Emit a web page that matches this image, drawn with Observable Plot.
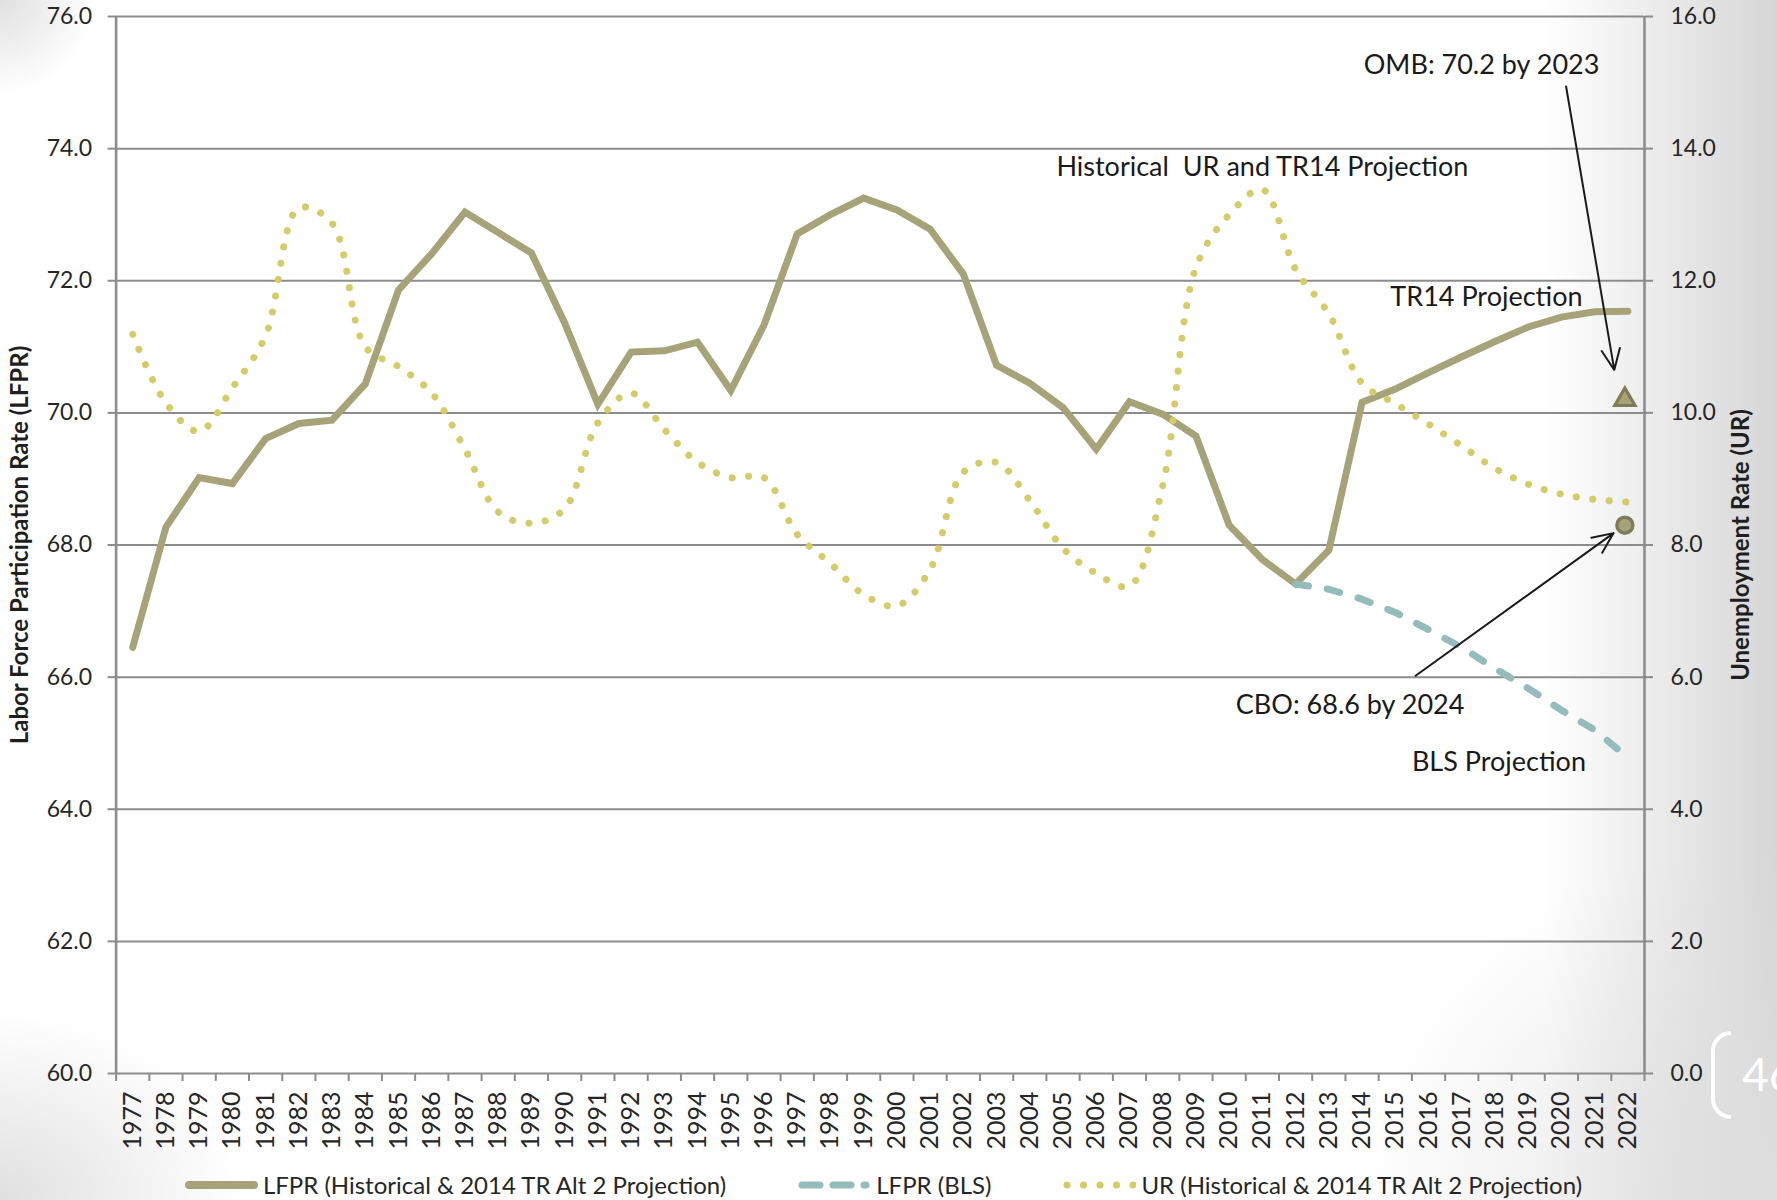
<!DOCTYPE html>
<html>
<head>
<meta charset="utf-8">
<script src="https://cdn.jsdelivr.net/npm/d3@7"></script>
<script src="https://cdn.jsdelivr.net/npm/@observablehq/plot@0.6"></script>
<style>
  html, body { margin: 0; padding: 0; }
  #page {
    position: relative; width: 1777px; height: 1200px; overflow: hidden;
    font-family: Lato, "Open Sans", sans-serif;
    background:
      radial-gradient(ellipse 95px 95px at 0 0, #e0e0e0 0%, rgba(224,224,224,0) 100%),
      radial-gradient(ellipse 240px 190px at 0 1200px, #e0e0e0 0%, rgba(224,224,224,0) 100%),
      radial-gradient(ellipse 420px 360px at 1777px 1200px, rgba(222,222,222,0.9) 0%, rgba(222,222,222,0) 100%),
      linear-gradient(to right, #ffffff 0px, #ffffff 1545px, #d6d6d6 1777px);
  }
  #chart { position: absolute; left: 0; top: 0; }
  #legend {
    position: absolute; left: 0; top: 1168px; width: 1767px;
    display: flex; justify-content: center; align-items: center; gap: 72px;
    font-size: 24px; color: #262626; line-height: 34px;
  }
  #legend .item { display: flex; align-items: center; gap: 5px; white-space: nowrap; }
  #legend svg { display: block; }
  .bracket {
    position: absolute; left: 1711px; top: 1031px; width: 16px; height: 80px;
    border: 4px solid #ffffff; border-right: none; border-radius: 24px 0 0 24px;
  }
  .pagenum {
    position: absolute; left: 1742px; top: 1046px; font-size: 46px; color: #ffffff;
    line-height: 56px;
  }
</style>
</head>
<body>
<div id="page">
  <div id="chart"></div>
  <div id="legend"></div>
  <div class="bracket"></div>
  <div class="pagenum">46</div>
</div>
<script>
// Labor force participation rate and unemployment rate, 1977–2022
const years = d3.range(1977, 2023);

// LFPR (historical & 2014 Trustees Report intermediate projection), percent
const lfpr = [
  66.45, 68.27, 69.02, 68.93, 69.61, 69.84, 69.89, 70.44, 71.86, 72.41,
  73.04, 72.73, 72.42, 71.36, 70.13, 70.92, 70.94, 71.07, 70.34, 71.33,
  72.71, 73.00, 73.25, 73.07, 72.78, 72.10, 70.72, 70.45, 70.08, 69.45,
  70.17, 69.98, 69.65, 68.30, 67.78, 67.41, 67.92, 70.16, 70.36, 70.61,
  70.85, 71.08, 71.30, 71.45, 71.53, 71.54
];

// BLS projection of LFPR, 2012–2022
const blsYears = d3.range(2012, 2023);
const blsLfpr = [67.41, 67.33, 67.18, 66.98, 66.72, 66.45, 66.13, 65.83, 65.50, 65.20, 64.78];

// Unemployment rate (historical & 2014 TR Alt 2 projection), percent, right axis
const ur = [
  11.19, 10.15, 9.72, 10.38, 11.17, 13.10, 12.87, 11.00, 10.70, 10.30,
  9.45, 8.50, 8.33, 8.55, 9.85, 10.30, 9.75, 9.25, 9.02, 9.02,
  8.16, 7.72, 7.25, 7.08, 7.63, 9.10, 9.25, 8.67, 7.95, 7.57,
  7.38, 8.90, 12.20, 13.00, 13.38, 12.17, 11.50, 10.45, 10.14, 9.83,
  9.50, 9.16, 8.92, 8.77, 8.69, 8.65
];

// Other agencies' LFPR projections shown at the end of the range
const omb = {year: 2022, rate: 70.2};
const cbo = {year: 2022, rate: 68.3};

// Axis ticks
const lfprTicks = d3.range(60, 77, 2);   // left axis; right axis reads UR = LFPR - 60
const urOffset = 60;
const yearBounds = d3.range(1976.5, 2023, 1);

// Annotation text and leader arrows, in (year, LFPR) units
const noteText = ["OMB: 70.2 by 2023", "Historical\u00a0 UR and TR14 Projection", "TR14 Projection", "CBO: 68.6 by 2024", "BLS Projection"];
const noteYear = [2014.05, 2004.8, 2014.85, 2010.2, 2015.5];
const noteRate = [75.26, 73.72, 71.75, 65.58, 64.71];
const arrowYear1 = [2020.14, 2015.61];
const arrowRate1 = [74.94, 66.02];
const arrowYear2 = [2021.59, 2021.57];
const arrowRate2 = [70.65, 68.18];

// Colors
const cLfpr = "#a6a378";
const cBls = "#94bcba";
const cUr = "#d4cc68";
const cMarkerEdge = "#7f7c57";
const cGrid = "#8c8c8c";
const cText = "#262626";

const lfprData = years.map((year, i) => ({year, rate: lfpr[i]}));
const blsData = blsYears.map((year, i) => ({year, rate: blsLfpr[i]}));
const urData = years.map((year, i) => ({year, rate: ur[i]}));
const notes = noteText.map((text, i) => ({text, year: noteYear[i], rate: noteRate[i]}));
const arrows = arrowYear1.map((_, i) => ({x1: arrowYear1[i], y1: arrowRate1[i], x2: arrowYear2[i], y2: arrowRate2[i]}));

const chart = Plot.plot({
  width: 1777,
  height: 1160,
  marginLeft: 115.6,
  marginRight: 133,
  marginTop: 16,
  marginBottom: 87,
  x: {type: "linear", domain: [1976.5, 2022.5]},
  y: {domain: [60, 76]},
  style: {fontFamily: "Lato, 'Open Sans', sans-serif", fontSize: "23px", background: "none", overflow: "visible", color: cText},
  marks: [
    // horizontal gridlines (the 60 line doubles as the baseline)
    Plot.gridY(lfprTicks, {stroke: cGrid, strokeWidth: 2, strokeOpacity: 1}),
    // left and right axis lines
    Plot.ruleX([1976.5, 2022.5], {y1: 60, y2: 76, stroke: cGrid, strokeWidth: 2.6}),
    // left axis: LFPR
    Plot.axisY(lfprTicks, {anchor: "left", tickSize: 8, tickPadding: 16, stroke: cGrid, strokeWidth: 2, fill: cText,
      fontSize: 23, tickFormat: d => d.toFixed(1), label: null}),
    // right axis: UR
    Plot.axisY(lfprTicks, {anchor: "right", tickSize: 8, tickPadding: 18, stroke: cGrid, strokeWidth: 2, fill: cText,
      fontSize: 23, tickFormat: d => (d - urOffset).toFixed(1), label: null}),
    // bottom axis: tick marks between years, rotated year labels
    Plot.axisX(yearBounds, {anchor: "bottom", tickSize: 8, stroke: cGrid, strokeWidth: 2, tickFormat: () => "", label: null}),
    Plot.axisX(years, {anchor: "bottom", tickSize: 0, tickPadding: 18, tickRotate: -90, fill: cText,
      fontSize: 25, tickFormat: d => String(d), label: null}),
    // axis titles
    Plot.text(["Labor Force Participation Rate (LFPR)"], {frameAnchor: "left", dx: -95.6, rotate: -90,
      fontSize: 24, fontWeight: "bold", fill: "#1f1f1f", textAnchor: "middle"}),
    Plot.text(["Unemployment Rate (UR)"], {frameAnchor: "right", dx: 97, rotate: -90,
      fontSize: 24, fontWeight: "bold", fill: "#1f1f1f", textAnchor: "middle"}),
    // series
    Plot.line(lfprData, {x: "year", y: "rate", stroke: cLfpr, strokeWidth: 7,
      strokeLinejoin: "miter", strokeMiterlimit: 3, strokeLinecap: "round"}),
    Plot.line(blsData, {x: "year", y: "rate", stroke: cBls, strokeWidth: 7,
      strokeDasharray: "13,19", strokeLinecap: "round"}),
    Plot.line(urData, {x: "year", y: d => d.rate + urOffset, curve: "catmull-rom", stroke: cUr,
      strokeWidth: 7, strokeDasharray: "0.1,16.4", strokeLinecap: "round"}),
    // OMB and CBO projection markers
    Plot.dot([omb], {x: "year", y: "rate", symbol: "triangle", r: 7.5, dx: -3, fill: cLfpr, stroke: cMarkerEdge, strokeWidth: 3.2}),
    Plot.dot([cbo], {x: "year", y: "rate", symbol: "circle", r: 8, dx: -3, fill: cLfpr, stroke: cMarkerEdge, strokeWidth: 3.5}),
    // annotations
    Plot.arrow(arrows, {x1: "x1", y1: "y1", x2: "x2", y2: "y2", stroke: "#1a1a1a", strokeWidth: 2,
      headLength: 17, headAngle: 48}),
    Plot.text(notes, {x: "year", y: "rate", text: "text", textAnchor: "start", fontSize: 27, fill: "#1a1a1a"})
  ]
});
document.getElementById("chart").append(chart);

// Legend below the chart
const legendItems = [
  {label: "LFPR (Historical & 2014 TR Alt 2 Projection)", kind: "solid"},
  {label: "LFPR (BLS)", kind: "dash"},
  {label: "UR (Historical & 2014 TR Alt 2 Projection)", kind: "dot"}
];
const legend = d3.select("#legend");
for (const item of legendItems) {
  const div = legend.append("div").attr("class", "item");
  const svg = div.append("svg").attr("width", 73).attr("height", 14);
  if (item.kind === "solid") {
    svg.append("line").attr("x1", 4).attr("x2", 69).attr("y1", 7).attr("y2", 7)
      .attr("stroke", cLfpr).attr("stroke-width", 8).attr("stroke-linecap", "round");
  } else if (item.kind === "dash") {
    svg.append("line").attr("x1", 4).attr("x2", 68).attr("y1", 7).attr("y2", 7)
      .attr("stroke", cBls).attr("stroke-width", 7).attr("stroke-linecap", "round")
      .attr("stroke-dasharray", "18,13");
  } else {
    svg.append("line").attr("x1", 4).attr("x2", 70).attr("y1", 7).attr("y2", 7)
      .attr("stroke", cUr).attr("stroke-width", 7).attr("stroke-linecap", "round")
      .attr("stroke-dasharray", "0.1,16.4");
  }
  div.append("span").text(item.label);
}
</script>
</body>
</html>
